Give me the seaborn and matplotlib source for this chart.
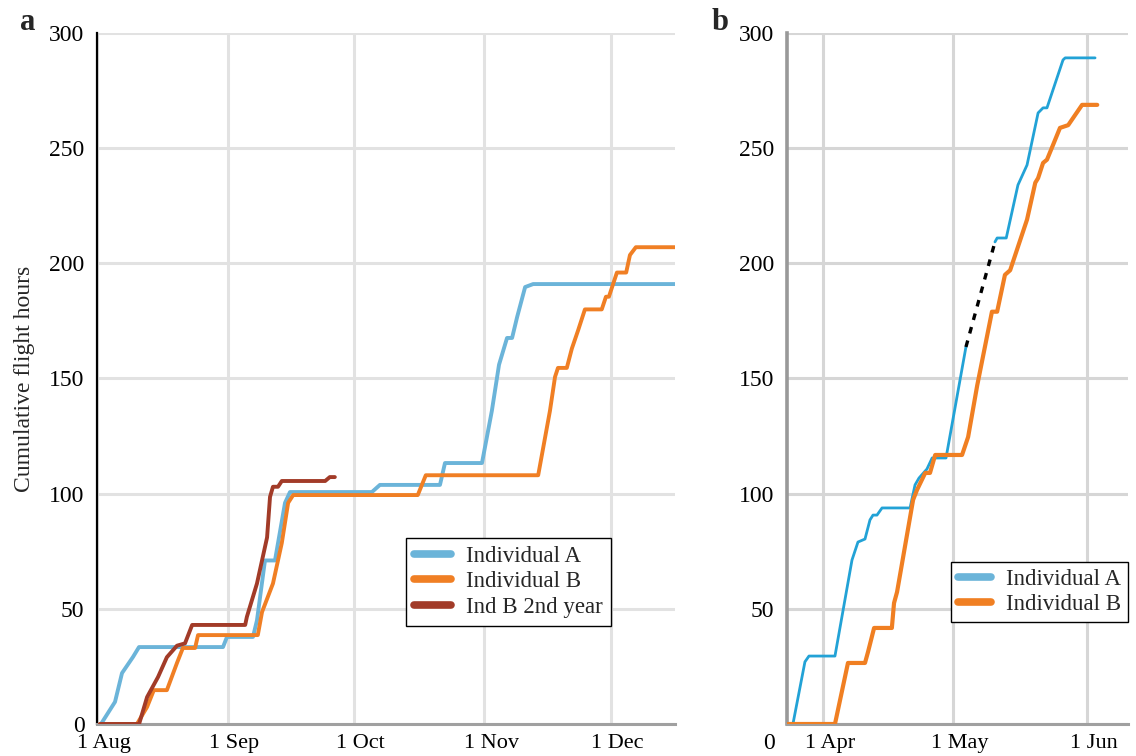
import matplotlib
matplotlib.use("Agg")
import matplotlib.pyplot as plt
import matplotlib.transforms as mtransforms
import seaborn as sns

# ---------------- Panel a data (days since 1 Aug) ----------------
a_ind_a_day = [0.95, 4.28, 5.94, 8.55, 9.98, 29.93, 30.88, 37.05, 38.0, 39.9, 42.28, 44.66, 45.84,
               65.3, 67.2, 81.47, 82.66, 91.45, 93.8, 95.5, 97.4, 98.6, 99.8, 101.7, 103.6, 137.3]
a_ind_a_val = [0, 9.6, 22.1, 29.1, 33.4, 33.4, 37.8, 37.8, 45, 71, 71, 96, 100.7,
               100.7, 103.8, 103.8, 113.3, 113.3, 136, 156, 167.6, 167.6, 176.7, 189.7, 191, 191]

a_ind_b_day = [0.7, 9.5, 11.9, 13.5, 16.6, 19.0, 20.4, 23.3, 24.0, 38.2, 39.2, 41.8, 43.9, 45.4, 46.6,
               76.2, 78.1, 104.8, 107.6, 108.8, 109.5, 111.6, 112.8, 114.3, 115.9, 119.9, 120.9,
               121.6, 123.5, 125.7, 126.6, 128.0, 137.3]
a_ind_b_val = [0, 0, 7.4, 14.7, 14.7, 26.5, 33, 33, 38.6, 38.6, 48.6, 61, 78.6, 96, 99.4,
               99.4, 108, 108, 136, 150.7, 154.6, 154.6, 163, 171, 180, 180, 185.5,
               185.5, 196, 196, 203.6, 207, 207]

a_ind_b2_day = [0.7, 10.0, 11.9, 14.5, 16.6, 19.0, 20.9, 22.6, 35.2, 35.6, 38.0, 40.4, 41.1, 41.8,
                43.0, 43.9, 54.2, 55.3, 56.5]
a_ind_b2_val = [0, 0, 11.7, 20.4, 29, 34, 35, 43, 43, 46.5, 61, 81, 98.6, 103,
                103, 105.5, 105.5, 107.2, 107.2]

a_tick_days = [0, 31, 61, 92, 122]
a_tick_labels = ["1 Aug", "1 Sep", "1 Oct", "1 Nov", "1 Dec"]

# ---------------- Panel b data (days since 1 Apr) ----------------
b_ind_a_day = [-6.93, -4.16, -3.23, 2.77, 6.7, 8.08, 9.7, 10.85, 11.55, 12.47, 13.63, 20.1, 21.25,
               22.17, 24.0, 25.2, 28.4, 33.0]
b_ind_a_val = [0, 27, 29.5, 29.5, 71.2, 79, 80.3, 88.6, 90.7, 90.7, 93.8, 93.8, 103.8,
               106.8, 110.7, 115.5, 115.5, 163.7]
b_ind_a2_day = [39.7, 40.2, 42.3, 45.0, 47.1, 49.65, 50.8, 51.7, 55.4, 55.9, 62.8]
b_ind_a2_val = [209.3, 211, 211, 234, 242.7, 265.3, 267.5, 267.5, 288.3, 289.2, 289.2]
b_gap_day = [33.0, 39.7]
b_gap_val = [163.7, 209.3]

b_ind_b_day = [-8.1, 2.77, 5.77, 9.7, 10.4, 11.8, 15.9, 16.4, 17.1, 20.8, 21.7, 23.6, 24.7, 25.9,
               32.1, 33.5, 35.6, 39.0, 40.2, 42.0, 43.2, 47.1, 49.0, 49.65, 50.8, 51.7, 53.1,
               54.7, 56.6, 59.8, 63.3]
b_ind_b_val = [0, 0, 26.5, 26.5, 31.3, 41.7, 41.7, 52.5, 57.3, 97.3, 101.6, 109, 109, 116.8,
               116.8, 124.6, 147, 179, 179, 195, 197, 219, 235, 237, 243.6, 245, 251.4,
               258.8, 260, 268.8, 268.8]

b_tick_days = [0, 30, 61]
b_tick_labels = ["1 Apr", "1 May", "1 Jun"]

y_ticks = [0, 50, 100, 150, 200, 250, 300]

# ---------------- Style ----------------
sns.set_style("white")
plt.rcParams["font.family"] = ["Liberation Serif", "DejaVu Serif"]

fig = plt.figure(figsize=(11.36, 7.56), dpi=100)
ax_a = fig.add_axes([97 / 1136, 1 - 724 / 756, 578 / 1136, 691 / 756])
ax_b = fig.add_axes([787 / 1136, 1 - 724 / 756, 341 / 1136, 691 / 756])

c_a_blue = "#6BB4D9"
c_a_orange = "#F07F24"
c_red = "#A23B28"
c_b_blue = "#22A2D6"
c_b_orange = "#F07F22"

# Panel a
sns.lineplot(x=a_ind_a_day, y=a_ind_a_val, ax=ax_a, color=c_a_blue, linewidth=2.8,
             label="Individual A", sort=False, zorder=3)
sns.lineplot(x=a_ind_b_day, y=a_ind_b_val, ax=ax_a, color=c_a_orange, linewidth=2.8,
             label="Individual B", sort=False, zorder=3)
sns.lineplot(x=a_ind_b2_day, y=a_ind_b2_val, ax=ax_a, color=c_red, linewidth=2.8,
             label="Ind B 2nd year", sort=False, zorder=4)

# Panel b
sns.lineplot(x=b_ind_a_day, y=b_ind_a_val, ax=ax_b, color=c_b_blue, linewidth=2.0,
             label="Individual A", sort=False, zorder=3)
sns.lineplot(x=b_ind_b_day, y=b_ind_b_val, ax=ax_b, color=c_b_orange, linewidth=3.0,
             label="Individual B", sort=False, zorder=3)
sns.lineplot(x=b_ind_a2_day, y=b_ind_a2_val, ax=ax_b, color=c_b_blue, linewidth=2.0,
             sort=False, zorder=3)
sns.lineplot(x=b_gap_day, y=b_gap_val, ax=ax_b, color="black", linewidth=2.4,
             linestyle=(0, (2, 2.2)), sort=False, zorder=3)

shift_right = mtransforms.ScaledTranslation(7 / 100, 0, fig.dpi_scale_trans)

for ax, ticks, labels, xlim, gcol, lcol in [
    (ax_a, a_tick_days, a_tick_labels, (0, 137.3), "#E2E2E2", "black"),
    (ax_b, b_tick_days, b_tick_labels, (-8.3, 70.4), "#D6D6D6", "#999999"),
]:
    ax.set_xlim(*xlim)
    ax.set_ylim(0, 300)
    ax.set_xticks(ticks)
    ax.set_xticklabels(labels)
    ax.set_yticks(y_ticks)
    ax.grid(True, color=gcol, linewidth=2.2, zorder=0)
    ax.set_axisbelow(True)
    for s in ["top", "right"]:
        ax.spines[s].set_visible(False)
    ax.spines["left"].set_color(lcol)
    ax.spines["left"].set_linewidth(1.6 if ax is ax_a else 2.6)
    ax.spines["bottom"].set_color("#A0A0A0")
    ax.spines["bottom"].set_linewidth(2.2)
    ax.tick_params(axis="both", length=0, colors="black")
    ax.tick_params(axis="y", pad=9, labelsize=17)
    ax.tick_params(axis="x", pad=7, labelsize=16)
    for lab in ax.get_xticklabels():
        lab.set_transform(lab.get_transform() + shift_right)
    ax.set_xlabel("")
    ax.set_ylabel("")

# the reference shows panel b's "0" label sitting lower than its gridline
b_zero = ax_b.get_yticklabels()[0]
b_zero.set_transform(b_zero.get_transform() +
                     mtransforms.ScaledTranslation(0, -17 / 100, fig.dpi_scale_trans))

ax_a.set_ylabel("Cumulative flight hours", fontsize=17, labelpad=10)

# Legends
leg_a = ax_a.legend(loc="lower left", bbox_to_anchor=(0.535, 0.142), fontsize=16.5,
                    frameon=True, fancybox=False, edgecolor="black", framealpha=1,
                    handlelength=1.6, handletextpad=0.65, borderpad=0.35, labelspacing=0.2,
                    borderaxespad=0)
leg_a.get_frame().set_linewidth(1.0)
for ln in leg_a.get_lines():
    ln.set_linewidth(5.5)
    ln.set_solid_capstyle("round")

leg_b = ax_b.legend(loc="lower left", bbox_to_anchor=(0.481, 0.148), fontsize=16.5,
                    frameon=True, fancybox=False, edgecolor="black", framealpha=1,
                    handlelength=1.45, handletextpad=0.65, borderpad=0.3, labelspacing=0.15,
                    borderaxespad=0)
leg_b.get_frame().set_linewidth(1.0)
for ln, col in zip(leg_b.get_lines(), [c_a_blue, c_b_orange]):
    ln.set_linewidth(5.5)
    ln.set_color(col)
    ln.set_solid_capstyle("round")

fig.text(20 / 1136, 1 - 22 / 756, "a", fontsize=22, fontweight="bold", va="center", ha="left")
fig.text(712 / 1136, 1 - 22 / 756, "b", fontsize=22, fontweight="bold", va="center", ha="left")

fig.savefig("out.png", dpi=100)
